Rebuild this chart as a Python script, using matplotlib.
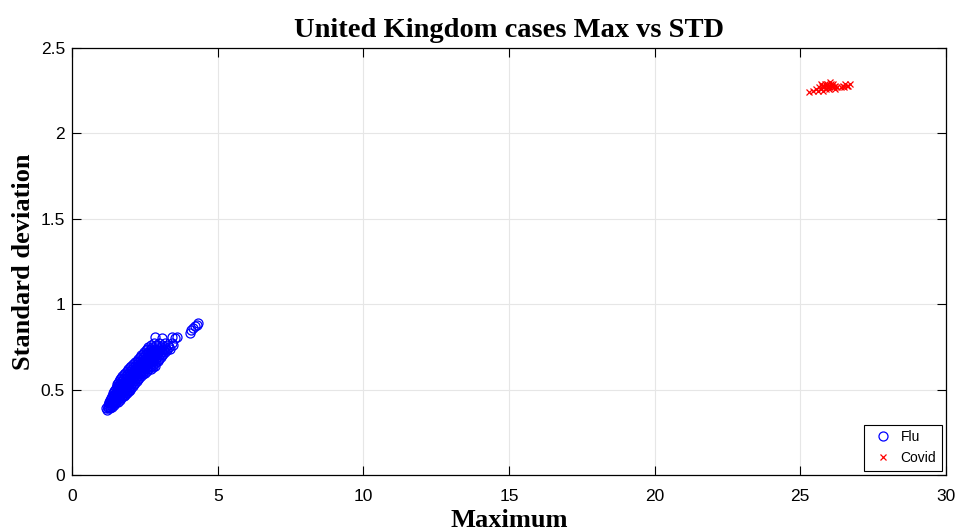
import numpy as np
import matplotlib.pyplot as plt

# Flu: standard deviation levels and the maxima seen at each level
flu_row_std = [0.38, 0.39, 0.40, 0.41, 0.42, 0.43, 0.44, 0.45, 0.46, 0.47, 0.48, 0.49, 0.50,
               0.51, 0.52, 0.53, 0.54, 0.55, 0.56, 0.57, 0.58, 0.59, 0.60, 0.61, 0.62,
               0.63, 0.64, 0.65, 0.66, 0.67, 0.68, 0.69, 0.70, 0.71, 0.72, 0.73, 0.74,
               0.75, 0.76, 0.77]
flu_row_max = [
    [1.20],
    [1.18, 1.25, 1.32],
    [1.22, 1.29, 1.36],
    [1.22, 1.30, 1.38, 1.45],
    [1.26, 1.34, 1.42, 1.48],
    [1.28, 1.36, 1.44, 1.52, 1.58],
    [1.31, 1.39, 1.47, 1.56, 1.63],
    [1.33, 1.43, 1.51, 1.60, 1.68],
    [1.37, 1.45, 1.53, 1.62, 1.71, 1.78],
    [1.40, 1.48, 1.56, 1.65, 1.74, 1.82],
    [1.42, 1.50, 1.58, 1.67, 1.76, 1.84, 1.90],
    [1.44, 1.53, 1.62, 1.71, 1.80, 1.88, 1.96],
    [1.47, 1.55, 1.64, 1.73, 1.83, 1.92, 2.00],
    [1.50, 1.59, 1.68, 1.77, 1.86, 1.95, 2.04],
    [1.53, 1.62, 1.71, 1.80, 1.89, 1.98, 2.10],
    [1.56, 1.65, 1.74, 1.83, 1.92, 2.02, 2.12],
    [1.59, 1.68, 1.77, 1.87, 1.97, 2.07, 2.17],
    [1.62, 1.72, 1.82, 1.92, 2.02, 2.12, 2.22],
    [1.65, 1.75, 1.85, 1.95, 2.05, 2.15, 2.25],
    [1.68, 1.79, 1.90, 2.00, 2.10, 2.20, 2.30],
    [1.73, 1.84, 1.95, 2.06, 2.16, 2.27, 2.37],
    [1.78, 1.89, 2.00, 2.11, 2.22, 2.33, 2.43],
    [1.83, 1.94, 2.06, 2.18, 2.30, 2.41, 2.52],
    [1.88, 2.00, 2.12, 2.24, 2.36, 2.48, 2.58],
    [1.93, 2.05, 2.16, 2.28, 2.40, 2.52, 2.62, 2.72],
    [1.98, 2.10, 2.22, 2.34, 2.46, 2.58, 2.68, 2.78],
    [2.04, 2.16, 2.28, 2.40, 2.52, 2.64, 2.75, 2.84],
    [2.10, 2.22, 2.34, 2.46, 2.58, 2.70, 2.82],
    [2.16, 2.28, 2.40, 2.52, 2.64, 2.76, 2.88],
    [2.22, 2.34, 2.46, 2.58, 2.70, 2.82, 2.94],
    [2.27, 2.39, 2.51, 2.63, 2.75, 2.87, 2.99],
    [2.32, 2.44, 2.56, 2.68, 2.80, 2.92, 3.04],
    [2.37, 2.49, 2.61, 2.73, 2.85, 2.97, 3.09],
    [2.42, 2.54, 2.66, 2.78, 2.90, 3.02, 3.14],
    [2.48, 2.60, 2.72, 2.84, 2.96, 3.08, 3.20],
    [2.55, 2.67, 2.79, 2.91, 3.03, 3.15, 3.27],
    [2.58, 2.72, 2.85, 2.98, 3.11, 3.24, 3.35],
    [2.62, 2.76, 2.90, 3.04, 3.18, 3.32],
    [2.70, 2.88, 3.08, 3.28, 3.45],
    [2.80, 3.00, 3.20, 3.42],
]
# scattered flu outliers above the band
flu_extra_max = [2.85, 3.09, 3.43, 3.55, 3.62, 4.05, 4.10, 4.15, 4.22, 4.28, 4.32]
flu_extra_std = [0.81, 0.80, 0.81, 0.80, 0.81, 0.83, 0.85, 0.86, 0.87, 0.88, 0.89]

# Covid
covid_max = [25.30, 25.45, 25.55, 25.65, 25.70, 25.75, 25.80, 25.85, 25.90, 25.95, 26.00, 26.05, 26.10,
             26.15, 26.20, 25.88, 26.02, 26.12, 25.78, 26.25, 26.45, 26.55, 26.60, 26.70, 26.50, 26.65,
             25.72, 25.82, 25.92, 25.98, 26.08, 26.18, 25.62, 26.40]
covid_std = [2.24, 2.25, 2.26, 2.27, 2.26, 2.28, 2.27, 2.29, 2.27, 2.28, 2.26, 2.29, 2.28,
             2.27, 2.28, 2.26, 2.30, 2.29, 2.25, 2.27, 2.28, 2.29, 2.28, 2.29, 2.27, 2.28,
             2.29, 2.28, 2.29, 2.27, 2.27, 2.26, 2.25, 2.27]

flu_max = [m for row in flu_row_max for m in row] + flu_extra_max
flu_std = [s for s, row in zip(flu_row_std, flu_row_max) for _ in row] + flu_extra_std

fig = plt.figure(figsize=(9.59, 5.32), dpi=100)
ax = fig.add_axes([0.0751, 0.1071, 0.9113, 0.8027])

ax.plot(flu_max, flu_std, 'o', color='blue', markerfacecolor='none', markersize=6.5, markeredgewidth=0.9, label='Flu')
ax.plot(covid_max, covid_std, 'x', color='red', markersize=4.5, markeredgewidth=0.9, label='Covid')

ax.set_xlim(0, 30)
ax.set_ylim(0, 2.5)
ax.set_xticks(np.arange(0, 31, 5))
ax.set_yticks([0, 0.5, 1, 1.5, 2, 2.5])
ax.set_yticklabels(['0', '0.5', '1', '1.5', '2', '2.5'])
ax.grid(True, color='#e6e6e6', linewidth=0.8)
ax.set_axisbelow(True)
ax.tick_params(direction='in', top=True, right=True, labelsize=12.5, length=6.5, width=0.8)
ax.tick_params(axis='x', pad=10)
ax.tick_params(axis='y', pad=5)
for lab in ax.get_xticklabels() + ax.get_yticklabels():
    lab.set_family('Liberation Sans')
for s in ax.spines.values():
    s.set_linewidth(0.9)

ax.set_title('United Kingdom cases Max vs STD', family='Liberation Serif', fontweight='bold', fontsize=20.5, pad=8)
ax.set_xlabel('Maximum', family='Liberation Serif', fontweight='bold', fontsize=19, labelpad=4)
ax.set_ylabel('Standard deviation', family='Liberation Serif', fontweight='bold', fontsize=19, labelpad=4)

leg = ax.legend(loc='lower right', prop={'family': 'Liberation Sans', 'size': 10}, fancybox=False,
                edgecolor='black', framealpha=1, borderaxespad=0.3, handletextpad=0.4, handlelength=1.8)
leg.get_frame().set_linewidth(0.8)

fig.savefig('out.png', dpi=100)
